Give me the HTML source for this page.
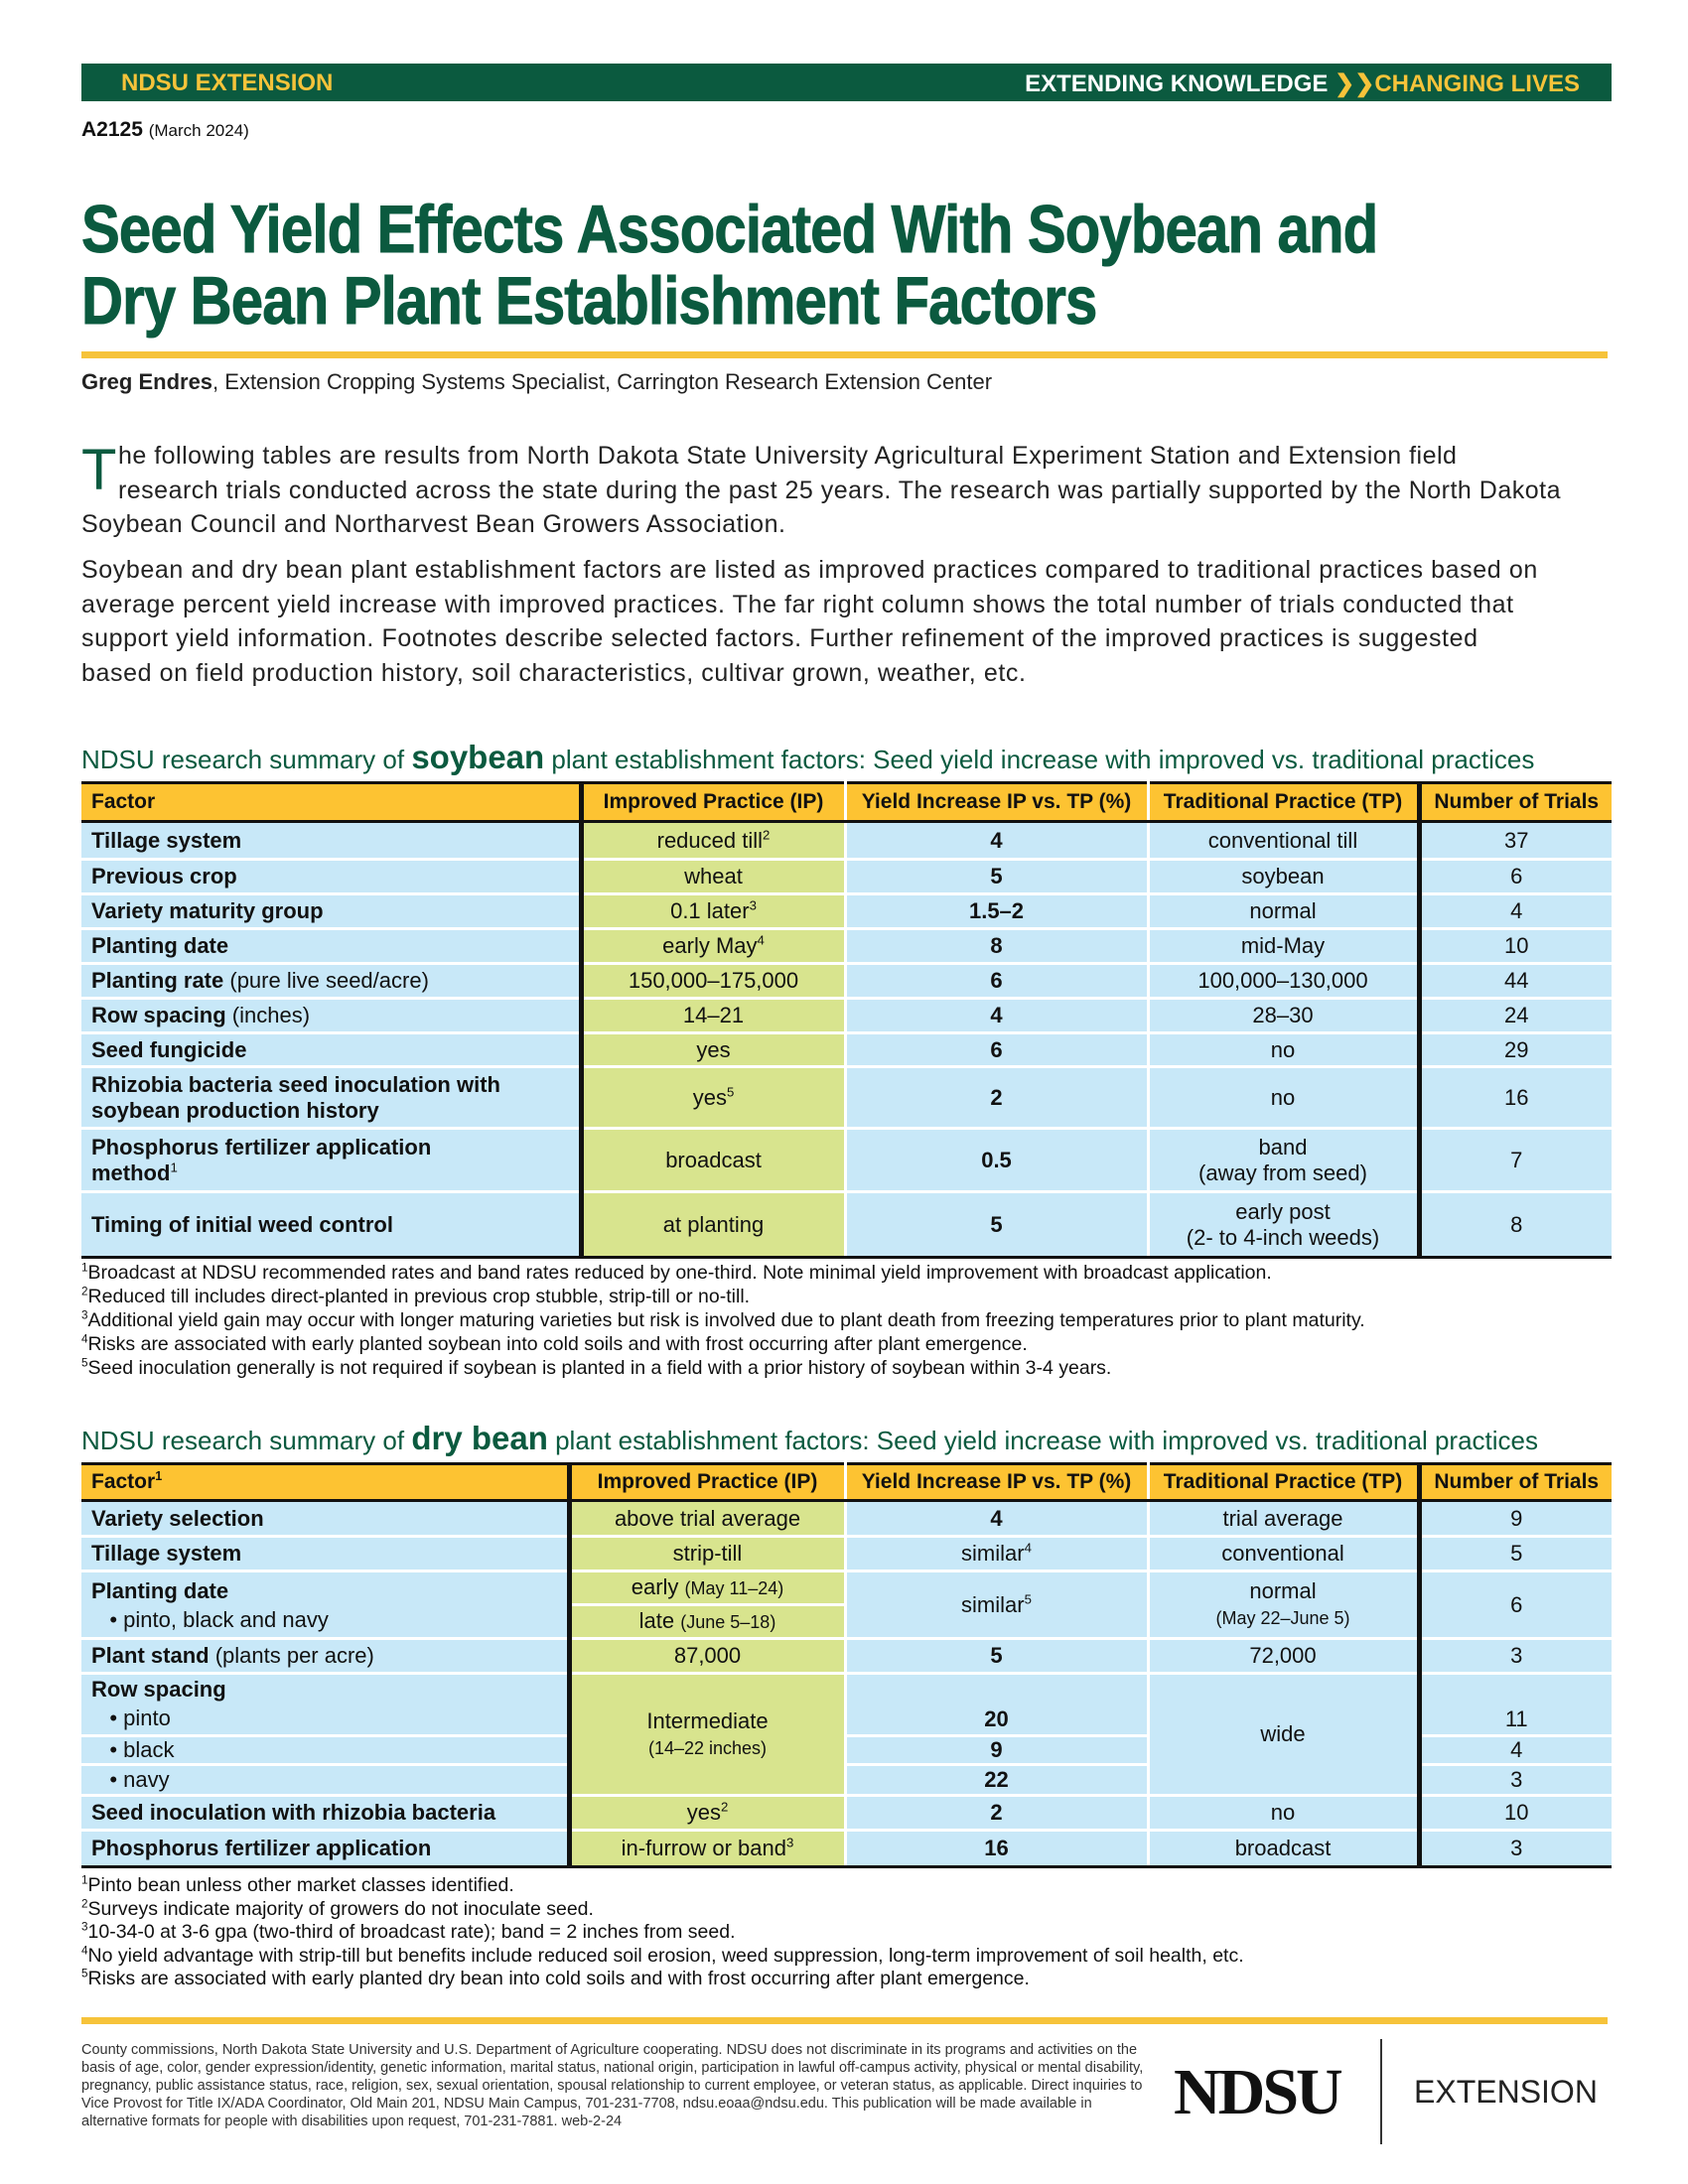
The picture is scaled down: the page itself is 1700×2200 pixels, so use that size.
<!DOCTYPE html>
<html><head><meta charset="utf-8"><style>
*{margin:0;padding:0;box-sizing:border-box}
body{width:1700px;height:2200px;background:#fff;position:relative;font-family:"Liberation Sans",Arial,sans-serif;color:#111;overflow:hidden}
.abs{position:absolute}
.bar{left:82px;top:64px;width:1541px;height:38px;background:#0b5a3f}
.bar .l{position:absolute;left:40px;top:6px;color:#f6c33a;font-weight:bold;font-size:24px}
.bar .r{position:absolute;right:32px;top:6px;color:#fff;font-size:24px;font-weight:bold}
.bar .r b{color:#f6c33a}
.title{left:82px;font-weight:bold;font-size:68px;color:#0b5a3f;white-space:nowrap;transform:scaleX(0.855);transform-origin:left top;letter-spacing:-1px;-webkit-text-stroke:1px #0b5a3f}
.rule{left:82px;width:1537px;height:7px;background:#f6c33a}
p.t{position:absolute;left:82px;font-size:23px;line-height:34.6px;color:#222}
.tt{left:82px;font-size:26px;color:#0b5a3f;white-space:nowrap;transform:scaleX(1.0);transform-origin:left top}
.tt b{font-size:33px}
table{position:absolute;left:82px;width:1541px;border-collapse:collapse;table-layout:fixed;font-size:22px}
td{text-align:center;vertical-align:middle;background:#c8e8f8;border-bottom:3px solid #fff;border-left:3px solid #fff;padding:0;line-height:26px}
td.f{text-align:left;padding-left:10px;border-left:none}
td.ip{background:#d8e48e;border-left:5px solid #111}
td.n{border-left:5px solid #111}
tr.h td{background:#fdc332;font-weight:bold;border-bottom:3px solid #111;font-size:21px}
tr.last td{border-bottom:3px solid #111}
table{border-top:3px solid #111}
.fn{left:82px;font-size:19.5px;line-height:24px;color:#111}
.foot{left:82px;top:2056px;width:1075px;font-size:14.5px;line-height:18px;color:#333}
sup{font-size:60%;line-height:0}
</style></head><body>
<div class="abs bar"><span class="l">NDSU EXTENSION</span><span class="r">EXTENDING KNOWLEDGE <b>❯❯CHANGING LIVES</b></span></div>
<div class="abs" style="left:82px;top:119px;font-size:21px"><b>A2125</b> <span style="font-size:17px">(March 2024)</span></div>
<div class="abs title" style="top:192px">Seed Yield Effects Associated With Soybean and</div>
<div class="abs title" style="top:264px">Dry Bean Plant Establishment Factors</div>
<div class="abs rule" style="top:354px"></div>
<div class="abs" style="left:82px;top:372px;font-size:22px;color:#222"><b>Greg Endres</b>, Extension Cropping Systems Specialist, Carrington Research Extension Center</div>
<p class="t" style="top:442px;width:1610px;white-space:nowrap;font-size:25px;letter-spacing:0.5px"><span style="color:#0b5a3f;font-size:58px;float:left;line-height:58px;margin-top:3px;margin-right:1px">T</span>he following tables are results from North Dakota State University Agricultural Experiment Station and Extension field<br>research trials conducted across the state during the past 25 years. The research was partially supported by the North Dakota<br>Soybean Council and Northarvest Bean Growers Association.</p>
<p class="t" style="top:557px;width:1480px;font-size:25px;letter-spacing:0.6px">Soybean and dry bean plant establishment factors are listed as improved practices compared to traditional practices based on average percent yield increase with improved practices. The far right column shows the total number of trials conducted that support yield information. Footnotes describe selected factors. Further refinement of the improved practices is suggested based on field production history, soil characteristics, cultivar grown, weather, etc.</p>

<div class="abs tt" style="top:744px">NDSU research summary of <b>soybean</b> plant establishment factors: Seed yield increase with improved vs. traditional practices</div>
<table style="top:787px">
<colgroup><col style="width:503px"><col style="width:266px"><col style="width:305px"><col style="width:273px"><col style="width:194px"></colgroup>
<tr class="h" style="height:39px"><td class="f">Factor</td><td class="ip">Improved Practice (IP)</td><td>Yield Increase IP vs. TP (%)</td><td>Traditional Practice (TP)</td><td class="n">Number of Trials</td></tr>
<tr style="height:38px"><td class="f"><b>Tillage system</b></td><td class="ip">reduced till<sup>2</sup></td><td><b>4</b></td><td>conventional till</td><td class="n">37</td></tr>
<tr style="height:35px"><td class="f"><b>Previous crop</b></td><td class="ip">wheat</td><td><b>5</b></td><td>soybean</td><td class="n">6</td></tr>
<tr style="height:35px"><td class="f"><b>Variety maturity group</b></td><td class="ip">0.1 later<sup>3</sup></td><td><b>1.5–2</b></td><td>normal</td><td class="n">4</td></tr>
<tr style="height:35px"><td class="f"><b>Planting date</b></td><td class="ip">early May<sup>4</sup></td><td><b>8</b></td><td>mid-May</td><td class="n">10</td></tr>
<tr style="height:35px"><td class="f"><b>Planting rate</b> (pure live seed/acre)</td><td class="ip">150,000–175,000</td><td><b>6</b></td><td>100,000–130,000</td><td class="n">44</td></tr>
<tr style="height:35px"><td class="f"><b>Row spacing</b> (inches)</td><td class="ip">14–21</td><td><b>4</b></td><td>28–30</td><td class="n">24</td></tr>
<tr style="height:34px"><td class="f"><b>Seed fungicide</b></td><td class="ip">yes</td><td><b>6</b></td><td>no</td><td class="n">29</td></tr>
<tr style="height:62px"><td class="f"><b>Rhizobia bacteria seed inoculation with soybean production history</b></td><td class="ip">yes<sup>5</sup></td><td><b>2</b></td><td>no</td><td class="n">16</td></tr>
<tr style="height:64px"><td class="f" style="padding-right:60px"><b>Phosphorus fertilizer application method</b><sup>1</sup></td><td class="ip">broadcast</td><td><b>0.5</b></td><td>band<br>(away from seed)</td><td class="n">7</td></tr>
<tr class="last" style="height:66px"><td class="f"><b>Timing of initial weed control</b></td><td class="ip">at planting</td><td><b>5</b></td><td>early post<br>(2- to 4-inch weeds)</td><td class="n">8</td></tr>
</table>
<div class="abs fn" style="top:1270px"><sup>1</sup>Broadcast at NDSU recommended rates and band rates reduced by one-third. Note minimal yield improvement with broadcast application.<br><sup>2</sup>Reduced till includes direct-planted in previous crop stubble, strip-till or no-till.<br><sup>3</sup>Additional yield gain may occur with longer maturing varieties but risk is involved due to plant death from freezing temperatures prior to plant maturity.<br><sup>4</sup>Risks are associated with early planted soybean into cold soils and with frost occurring after plant emergence.<br><sup>5</sup>Seed inoculation generally is not required if soybean is planted in a field with a prior history of soybean within 3-4 years.</div>

<div class="abs tt" style="top:1430px">NDSU research summary of <b>dry bean</b> plant establishment factors: Seed yield increase with improved vs. traditional practices</div>
<table style="top:1473px">
<colgroup><col style="width:491px"><col style="width:278px"><col style="width:305px"><col style="width:273px"><col style="width:194px"></colgroup>
<tr class="h" style="height:37px"><td class="f">Factor<sup>1</sup></td><td class="ip">Improved Practice (IP)</td><td>Yield Increase IP vs. TP (%)</td><td>Traditional Practice (TP)</td><td class="n">Number of Trials</td></tr>
<tr style="height:36px"><td class="f"><b>Variety selection</b></td><td class="ip">above trial average</td><td><b>4</b></td><td>trial average</td><td class="n">9</td></tr>
<tr style="height:35px"><td class="f"><b>Tillage system</b></td><td class="ip">strip-till</td><td>similar<sup>4</sup></td><td>conventional</td><td class="n">5</td></tr>
<tr style="height:34px"><td class="f" rowspan="2" style="line-height:29px"><b>Planting date</b><br>&nbsp;&nbsp;&nbsp;• pinto, black and navy</td><td class="ip">early <span style="font-size:18px">(May 11–24)</span></td><td rowspan="2">similar<sup>5</sup></td><td rowspan="2">normal<br><span style="font-size:18px">(May 22–June 5)</span></td><td class="n" rowspan="2">6</td></tr>
<tr style="height:34px"><td class="ip">late <span style="font-size:18px">(June 5–18)</span></td></tr>
<tr style="height:35px"><td class="f"><b>Plant stand</b> (plants per acre)</td><td class="ip">87,000</td><td><b>5</b></td><td>72,000</td><td class="n">3</td></tr>
<tr style="height:62px"><td class="f" style="line-height:29px;vertical-align:bottom;padding-bottom:2px"><b>Row spacing</b><br>&nbsp;&nbsp;&nbsp;• pinto</td><td class="ip" rowspan="3">Intermediate<br><span style="font-size:18px">(14–22 inches)</span></td><td style="vertical-align:bottom;padding-bottom:2px"><b>20</b></td><td rowspan="3">wide</td><td class="n" style="vertical-align:bottom;padding-bottom:2px">11</td></tr>
<tr style="height:29px"><td class="f">&nbsp;&nbsp;&nbsp;• black</td><td><b>9</b></td><td class="n">4</td></tr>
<tr style="height:31px"><td class="f">&nbsp;&nbsp;&nbsp;• navy</td><td><b>22</b></td><td class="n">3</td></tr>
<tr style="height:35px"><td class="f"><b>Seed inoculation with rhizobia bacteria</b></td><td class="ip">yes<sup>2</sup></td><td><b>2</b></td><td>no</td><td class="n">10</td></tr>
<tr class="last" style="height:37px"><td class="f"><b>Phosphorus fertilizer application</b></td><td class="ip">in-furrow or band<sup>3</sup></td><td><b>16</b></td><td>broadcast</td><td class="n">3</td></tr>
</table>
<div class="abs fn" style="top:1888px;line-height:23.5px"><sup>1</sup>Pinto bean unless other market classes identified.<br><sup>2</sup>Surveys indicate majority of growers do not inoculate seed.<br><sup>3</sup>10-34-0 at 3-6 gpa (two-third of broadcast rate); band = 2 inches from seed.<br><sup>4</sup>No yield advantage with strip-till but benefits include reduced soil erosion, weed suppression, long-term improvement of soil health, etc.<br><sup>5</sup>Risks are associated with early planted dry bean into cold soils and with frost occurring after plant emergence.</div>

<div class="abs rule" style="top:2032px"></div>
<div class="abs foot">County commissions, North Dakota State University and U.S. Department of Agriculture cooperating. NDSU does not discriminate in its programs and activities on the basis of age, color, gender expression/identity, genetic information, marital status, national origin, participation in lawful off-campus activity, physical or mental disability, pregnancy, public assistance status, race, religion, sex, sexual orientation, spousal relationship to current employee, or veteran status, as applicable. Direct inquiries to Vice Provost for Title IX/ADA Coordinator, Old Main 201, NDSU Main Campus, 701-231-7708, ndsu.eoaa@ndsu.edu. This publication will be made available in alternative formats for people with disabilities upon request, 701-231-7881. web-2-24</div>
<div class="abs" style="left:1182px;top:2070px;font-family:'Liberation Serif',serif;font-weight:bold;font-size:66px;letter-spacing:-3px;color:#111">NDSU</div>
<div class="abs" style="left:1390px;top:2054px;width:2px;height:106px;background:#333"></div>
<div class="abs" style="left:1424px;top:2089px;font-size:32px;color:#222">EXTENSION</div>
</body></html>
